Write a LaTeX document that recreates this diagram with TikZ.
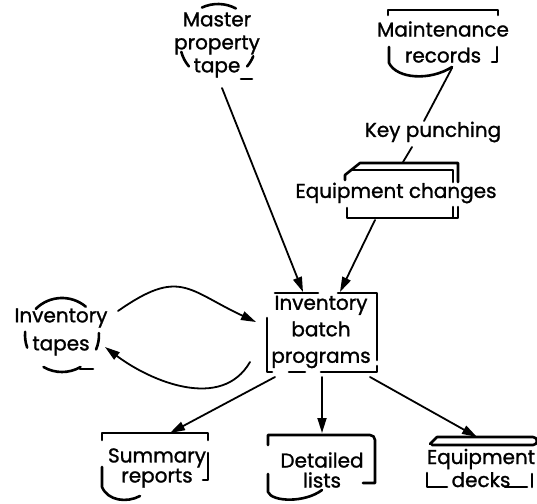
\documentclass[tikz,border=0pt]{standalone}
\usepackage{fontspec}
\setmainfont{Poppins}[FakeBold=1.2]
\usetikzlibrary{arrows.meta}
\begin{document}
\begin{tikzpicture}[x=1pt,y=-1pt,
  line cap=round, line join=round,
  lbl/.style={font=\fontsize{20}{23}\selectfont, align=center, inner sep=0pt},
  outline/.style={line width=2.6pt},
  flow/.style={line width=1.8pt, -{Triangle[length=15pt,width=9pt]}},
  plain/.style={line width=1.8pt},
]
\useasboundingbox (0,0) rectangle (537,503);

% ---- Master property tape (tape symbol) ----
\node[lbl] (master) at (217,45) {Master\\property\\tape};
\draw[outline] (218,42) ++(-62:38) arc[start angle=-62, end angle=-115, radius=38];
\draw[outline] (218,42) ++(-195:38) arc[start angle=-195, end angle=-220, radius=38];
\draw[outline] (218,42) ++(22:38) arc[start angle=22, end angle=40, radius=38];
\draw[outline] (241,79) -- (252,79);

% ---- Maintenance records (document) ----
\node[lbl, font=\fontsize{20}{26}\selectfont] (maint) at (443,42) {Maintenance\\records};
\draw[outline] (388,15) -- (388,10) -- (498,10) -- (498,15);
\draw[outline] (389,47) -- (389,63) .. controls (397,79) and (430,81) .. (452,67);
\draw[outline] (492,62) -- (497,62) -- (497,47);

% ---- Key punching ----
\node[lbl] (keyp) at (433,132) {Key punching};

% ---- Equipment changes (card deck) ----
\node[lbl] (eqch) at (396,193) {Equipment changes};
\draw[outline] (345,180) -- (345,175) -- (360,163) -- (458,163) -- (458,182);
\draw[outline] (351,170) -- (453,170) -- (453,182);
\draw[outline] (347,208) -- (347,218) -- (458,218) -- (458,207);
\draw[outline] (453,207) -- (453,217);

% ---- Inventory batch programs (process) ----
\node[lbl, font=\fontsize{20}{26.5}\selectfont] (batch) at (321,332) {Inventory\\batch\\programs};
\draw[outline] (275,293) -- (318,293);
\draw[outline] (338,293) -- (377,293) -- (377,360);
\draw[outline] (267,318) -- (267,372) -- (272,372);
\draw[outline] (289,372) -- (305,372);
\draw[outline] (321,372) -- (377,372) -- (377,366);

% ---- Inventory tapes (tape symbol) ----
\node[lbl, font=\fontsize{20}{28}\selectfont] (invt) at (61,332) {Inventory\\tapes};
\draw[outline] (62,335) ++(-50:37) arc[start angle=-50, end angle=-135, radius=37];
\draw[outline] (62,335) ++(-175:37) arc[start angle=-175, end angle=-200, radius=37];
\draw[outline] (62,335) ++(-3:37) arc[start angle=-3, end angle=23, radius=37];
\draw[outline] (62,335) ++(60:37) arc[start angle=60, end angle=120, radius=37];
\draw[outline] (80,369) -- (93,369);

% ---- Summary reports (document) ----
\node[lbl, font=\fontsize{20}{20}\selectfont] (summ) at (157,468) {Summary\\reports};
\draw[outline] (102,440) -- (102,433) -- (208,433) -- (208,440);
\draw[outline] (102,467) -- (102,487) .. controls (108,501) and (127,503) .. (140,496);
\draw[outline] (208,453) -- (208,480) -- (203,480);

% ---- Detailed lists (document) ----
\node[lbl, font=\fontsize{20}{20}\selectfont] (detl) at (322,470) {Detailed\\lists};
\draw[outline] (268,445) -- (268,435) -- (370,435) to[out=0,in=90] (375,440) -- (375,483) -- (363,483);
\draw[outline] (268,474) -- (268,492) .. controls (272,502) and (305,503) .. (322,490);

% ---- Equipment decks (card deck) ----
\node[lbl, font=\fontsize{20}{23}\selectfont] (eqdk) at (481,468) {Equipment\\decks};
\draw[outline] (430,444) -- (437,437) -- (533,437) arc[start angle=-90, end angle=90, radius=4] -- (432,445);
\draw[outline] (427,473) -- (427,487) -- (447,487);
\draw[outline] (505,487) -- (527,487);
\draw[outline] (532,474) -- (532,487);

% ---- connector end points ----
\coordinate (mt-out) at (222,88);
\coordinate (ib-in1) at (303,292);
\coordinate (ec-out) at (375,220);
\coordinate (ib-in2) at (340,292);
\coordinate (mr-out) at (452,68);
\coordinate (kp-in) at (424,121);
\coordinate (kp-out) at (412,147);
\coordinate (ec-in) at (403,162);
\coordinate (it-out) at (118,311);
\coordinate (ib-inL) at (256,322);
\coordinate (ib-outL) at (250,362);
\coordinate (it-in) at (105,347);
\coordinate (ib-o1) at (275,377);
\coordinate (sr-in) at (170,433);
\coordinate (ib-o2) at (322,377);
\coordinate (dl-in) at (322,433);
\coordinate (ib-o3) at (370,377);
\coordinate (ed-in) at (477,437);

% ---- connectors ----
\draw[plain] (mr-out) -- (kp-in);
\draw[plain] (kp-out) -- (ec-in);
\draw[flow] (mt-out) -- (ib-in1);
\draw[flow] (ec-out) -- (ib-in2);
\draw[flow] (it-out) to[out=35, in=155, looseness=1.4] (ib-inL);
\draw[flow] (ib-outL) to[out=-120, in=-37] (it-in);
\draw[flow] (ib-o1) -- (sr-in);
\draw[flow] (ib-o2) -- (dl-in);
\draw[flow] (ib-o3) -- (ed-in);
\end{tikzpicture}
\end{document}
